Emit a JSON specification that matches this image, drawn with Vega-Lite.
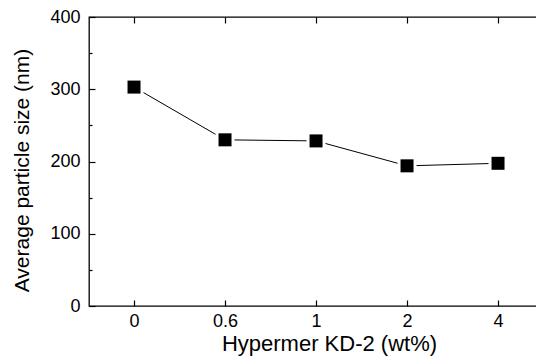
{
  "$schema": "https://vega.github.io/schema/vega-lite/v6.json",
  "autosize": "none",
  "padding": {"left": 89, "top": 17, "right": 0, "bottom": 50},
  "width": 448,
  "height": 289,
  "background": "white",
  "config": {
    "view": {"stroke": "black", "strokeWidth": 1.3},
    "axis": {"domain": false, "labelColor": "black", "titleColor": "black", "labelFont": "Liberation Sans", "titleFont": "Liberation Sans", "grid": false, "tickColor": "black", "tickWidth": 1.2}
  },
  "data": {"values": [
    {"x": "0", "size": 303},
    {"x": "0.6", "size": 230},
    {"x": "1", "size": 228.5},
    {"x": "2", "size": 194},
    {"x": "4", "size": 197.5}
  ]},
  "encoding": {
    "x": {"field": "x", "type": "ordinal", "sort": null,
      "scale": {"type": "point", "padding": 0.4615, "align": 0.536}},
    "y": {"field": "size", "type": "quantitative",
      "scale": {"domain": [0, 400], "nice": false, "zero": true}}
  },
  "layer": [
    {
      "mark": {"type": "line", "color": "black", "strokeWidth": 1},
      "encoding": {
        "x": {"field": "x", "type": "ordinal", "sort": null,
          "axis": {"orient": "bottom", "title": "Hypermer KD-2  (wt%)", "labelAngle": 0, "labelFontSize": 18, "titleFontSize": 22, "titleFontWeight": "normal", "ticks": false, "tickSize": 0, "labelPadding": 6, "titlePadding": 3, "titleX": 240}},
        "y": {"field": "size", "type": "quantitative",
          "axis": {"title": "Average particle size (nm)", "values": [0, 100, 200, 300, 400],
            "ticks": false, "tickSize": 0,
            "labelFontSize": 18, "titleFontSize": 21, "titleFontWeight": "normal", "labelPadding": 9, "titlePadding": 17, "titleY": 153}}
      }
    },
    {
      "mark": {"type": "point", "shape": "square", "filled": true, "size": 361, "color": "white", "opacity": 1},
      "encoding": {
        "x": {"field": "x", "type": "ordinal", "sort": null,
          "axis": {"orient": "bottom", "title": null, "labels": false, "ticks": true, "tickSize": 6, "offset": -6}},
        "y": {"field": "size", "type": "quantitative",
          "axis": {"orient": "left", "title": null, "labels": false, "ticks": true, "values": [0, 100, 200, 300, 400], "tickSize": 6, "offset": -6}}
      }
    },
    {
      "mark": {"type": "point", "shape": "square", "filled": true, "size": 169, "color": "black", "opacity": 1},
      "encoding": {
        "x": {"field": "x", "type": "ordinal", "sort": null,
          "axis": {"orient": "top", "title": null, "labels": false, "ticks": true, "tickSize": 6, "offset": -6}},
        "y": {"field": "size", "type": "quantitative",
          "axis": {"orient": "left", "title": null, "labels": false, "ticks": true, "values": [50, 150, 250, 350], "tickSize": 3, "offset": -3}}
      }
    }
  ],
  "resolve": {"axis": {"x": "independent", "y": "independent"}}
}
